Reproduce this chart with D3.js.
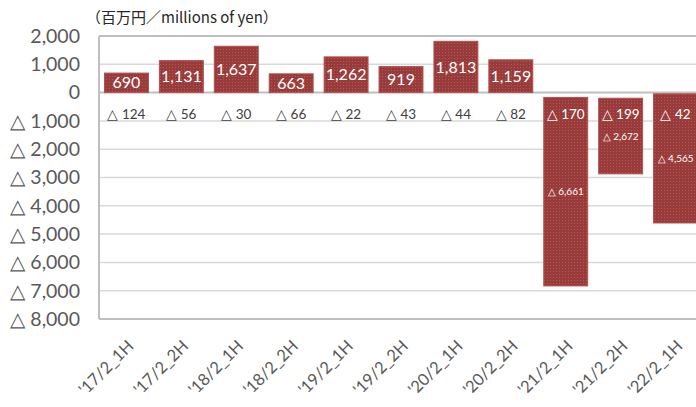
<!DOCTYPE html>
<html>
<head>
<meta charset="utf-8">
<script src="https://cdn.jsdelivr.net/npm/d3@7"></script>
<style>
  body { margin: 0; background: #fff; }
  svg { display: block; font-family: Lato, "Noto Sans", sans-serif; }
</style>
</head>
<body>
<div id="chart"></div>
<script>
// half-year periods
const periods = ["'17/2_1H", "'17/2_2H", "'18/2_1H", "'18/2_2H", "'19/2_1H", "'19/2_2H",
                 "'20/2_1H", "'20/2_2H", "'21/2_1H", "'21/2_2H", "'22/2_1H"];
// main series (dark red)
const mainValues = [690, 1131, 1637, 663, 1262, 919, 1813, 1159, -6661, -2672, -4565];
// small series (pink), all negative
const subValues = [-124, -56, -30, -66, -22, -43, -44, -82, -170, -199, -42];
const yTicks = [2000, 1000, 0, -1000, -2000, -3000, -4000, -5000, -6000, -7000, -8000];
const unitLabel = "（百万円／millions of yen）";

const W = 696, H = 407;
const svg = d3.select("#chart").append("svg").attr("width", W).attr("height", H);

// dotted fill like the excel pattern
const defs = svg.append("defs");
const pat = defs.append("pattern").attr("id", "dots")
  .attr("width", 3).attr("height", 3).attr("patternUnits", "userSpaceOnUse");
pat.append("rect").attr("width", 3).attr("height", 3).attr("fill", "#993b3a");
pat.append("rect").attr("x", 1).attr("y", 1).attr("width", 1).attr("height", 1).attr("fill", "#b05a58");

const x = d3.scaleBand().domain(periods).range([99, 703]).paddingInner(0.2).paddingOuter(0.1);
const y = d3.scaleLinear().domain([-8000, 2000]).range([319, 36]);

const fmt = d3.format(",");
const lab = v => v < 0 ? "△ " + fmt(-v) : fmt(v);

// gridlines
svg.append("g").selectAll("line").data(yTicks).join("line")
  .attr("x1", 99).attr("x2", W)
  .attr("y1", d => y(d)).attr("y2", d => y(d))
  .attr("stroke", d => (d === 0 || d === 2000 || d === -8000) ? "#bfbfbf" : "#d9d9d9")
  .attr("stroke-width", d => (d === 0 || d === 2000 || d === -8000) ? 2 : 1.5);
svg.append("line").attr("x1", 99).attr("x2", 99).attr("y1", y(2000)).attr("y2", y(-8000))
  .attr("stroke", "#bfbfbf").attr("stroke-width", 2);

// y labels
svg.append("g").selectAll("text").data(yTicks).join("text")
  .attr("x", 80).attr("y", d => y(d)).attr("dy", "0.35em")
  .attr("text-anchor", "end").attr("fill", "#595959").style("font-size", "19.5px")
  .text(d => lab(d));

// stack: pink first so it sits next to zero
const rows = periods.map((p, i) => ({ period: p, sub: subValues[i], main: mainValues[i] }));
const series = d3.stack().keys(["sub", "main"]).offset(d3.stackOffsetDiverging)(rows);

const bars = svg.append("g");
bars.selectAll("rect.sub").data(series[0]).join("rect").attr("class", "sub")
  .attr("x", d => x(d.data.period)).attr("width", x.bandwidth())
  .attr("y", d => y(d[0])).attr("height", d => y(d[1]) - y(d[0]))
  .attr("fill", "#dc9896");
bars.selectAll("rect.main").data(series[1]).join("rect").attr("class", "main")
  .attr("x", d => x(d.data.period)).attr("width", x.bandwidth())
  .attr("y", d => y(Math.max(d[0], d[1]))).attr("height", d => Math.abs(y(d[1]) - y(d[0])))
  .attr("fill", "url(#dots)").attr("stroke", "#b5504e").attr("stroke-width", 1);

// main labels, centred in bar
svg.append("g").selectAll("text").data(series[1]).join("text")
  .attr("x", d => x(d.data.period) + x.bandwidth() / 2)
  .attr("y", d => y((d[0] + d[1]) / 2)).attr("dy", "0.35em")
  .attr("text-anchor", "middle").attr("fill", "#fff")
  .style("font-size", d => d.data.main < 0 ? "10px" : "16px")
  .text(d => lab(d.data.main));

// pink labels sit on one row under the zero line
svg.append("g").selectAll("text").data(rows).join("text")
  .attr("x", d => x(d.period) + x.bandwidth() / 2)
  .attr("y", y(-770)).attr("dy", "0.35em")
  .attr("text-anchor", "middle")
  .attr("fill", d => d.main < 0 ? "#fff" : "#404040")
  .style("font-size", "13.5px")
  .text(d => lab(d.sub));

// x labels
svg.append("g").selectAll("text").data(periods).join("text")
  .attr("transform", d => `translate(${x(d) + x.bandwidth() / 2 + 4},${343}) rotate(-45)`)
  .attr("text-anchor", "end").attr("dy", "0.35em")
  .attr("fill", "#595959").style("font-size", "16.5px")
  .text(d => d);

svg.append("text").attr("x", 86).attr("y", 23)
  .attr("fill", "#262626").style("font-size", "15px")
  .style("font-family", "'Noto Sans CJK JP', Lato, sans-serif")
  .text(unitLabel);
</script>
</body>
</html>
